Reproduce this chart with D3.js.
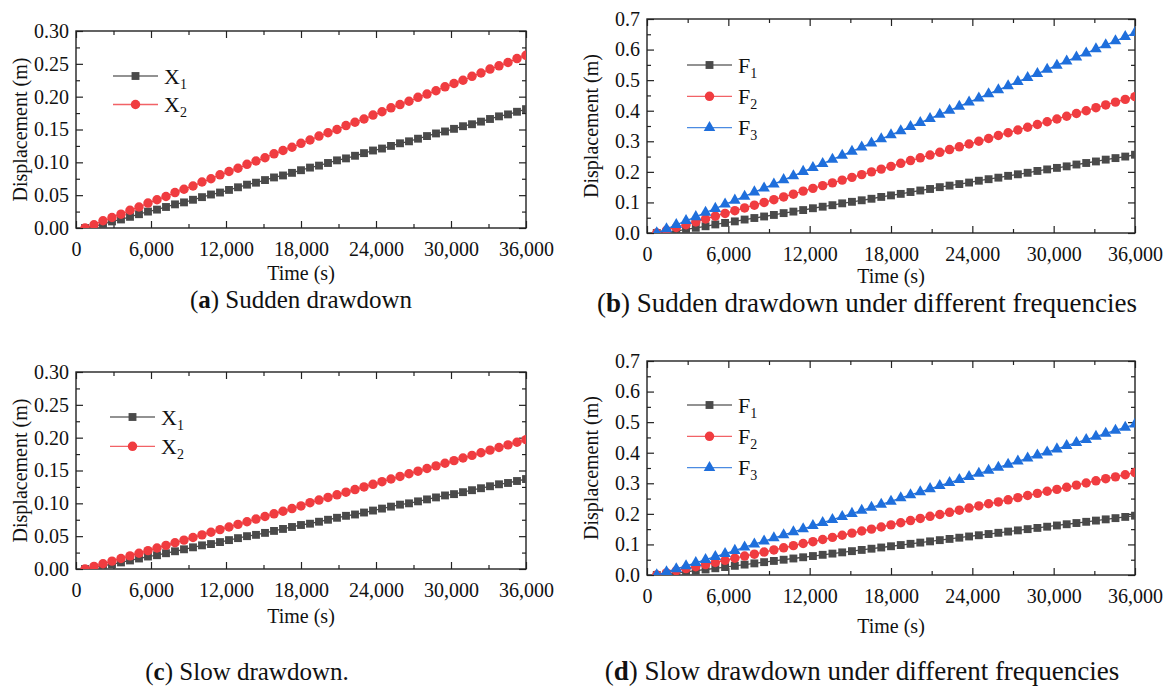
<!DOCTYPE html>
<html>
<head>
<meta charset="utf-8">
<script src="https://cdn.jsdelivr.net/npm/d3@7"></script>
<style>
  body { margin: 0; background: #fff; }
  svg text { font-family: "Liberation Serif", "Times New Roman", serif; fill: #111; }
</style>
</head>
<body>
<svg id="chart" width="1170" height="689"></svg>
<script>
// time steps (s)
const times = [720, 1440, 2160, 2880, 3600, 4320, 5040, 5760, 6480, 7200,
  7920, 8640, 9360, 10080, 10800, 11520, 12240, 12960, 13680, 14400,
  15120, 15840, 16560, 17280, 18000, 18720, 19440, 20160, 20880, 21600,
  22320, 23040, 23760, 24480, 25200, 25920, 26640, 27360, 28080, 28800,
  29520, 30240, 30960, 31680, 32400, 33120, 33840, 34560, 35280, 36000];

// (a) sudden drawdown
const sudX1 = [0, 0.002, 0.006, 0.010, 0.013, 0.017, 0.021, 0.025, 0.028, 0.032,
  0.036, 0.039, 0.043, 0.047, 0.051, 0.054, 0.058, 0.062, 0.066, 0.069,
  0.073, 0.077, 0.080, 0.084, 0.088, 0.092, 0.095, 0.099, 0.103, 0.106,
  0.110, 0.114, 0.118, 0.121, 0.125, 0.129, 0.132, 0.136, 0.140, 0.144,
  0.147, 0.151, 0.155, 0.158, 0.162, 0.166, 0.170, 0.173, 0.177, 0.181];
const sudX2 = [0, 0.005, 0.011, 0.016, 0.021, 0.027, 0.032, 0.038, 0.043, 0.048,
  0.054, 0.059, 0.064, 0.070, 0.075, 0.081, 0.086, 0.091, 0.097, 0.102,
  0.107, 0.113, 0.118, 0.123, 0.129, 0.134, 0.140, 0.145, 0.150, 0.156,
  0.161, 0.166, 0.172, 0.177, 0.183, 0.188, 0.193, 0.199, 0.204, 0.209,
  0.215, 0.220, 0.225, 0.231, 0.236, 0.242, 0.247, 0.252, 0.258, 0.263];

// (b) sudden drawdown, frequencies
const sudF1 = [0, 0.001, 0.006, 0.012, 0.017, 0.022, 0.028, 0.033, 0.038, 0.044,
  0.049, 0.054, 0.059, 0.065, 0.070, 0.075, 0.081, 0.086, 0.091, 0.097,
  0.102, 0.107, 0.112, 0.118, 0.123, 0.128, 0.134, 0.139, 0.144, 0.150,
  0.155, 0.160, 0.165, 0.171, 0.176, 0.181, 0.187, 0.192, 0.197, 0.203,
  0.208, 0.213, 0.218, 0.224, 0.229, 0.234, 0.240, 0.245, 0.250, 0.256];
const sudF2 = [0, 0.009, 0.018, 0.027, 0.036, 0.046, 0.055, 0.064, 0.073, 0.082,
  0.091, 0.100, 0.109, 0.118, 0.127, 0.137, 0.146, 0.155, 0.164, 0.173,
  0.182, 0.191, 0.200, 0.209, 0.218, 0.228, 0.237, 0.246, 0.255, 0.264,
  0.273, 0.282, 0.291, 0.300, 0.309, 0.319, 0.328, 0.337, 0.346, 0.355,
  0.364, 0.373, 0.382, 0.391, 0.400, 0.410, 0.419, 0.428, 0.437, 0.446];
const sudF3 = [0, 0.013, 0.027, 0.040, 0.053, 0.067, 0.080, 0.094, 0.107, 0.120,
  0.134, 0.147, 0.160, 0.174, 0.187, 0.201, 0.214, 0.227, 0.241, 0.254,
  0.267, 0.281, 0.294, 0.308, 0.321, 0.334, 0.348, 0.361, 0.374, 0.388,
  0.401, 0.414, 0.428, 0.441, 0.455, 0.468, 0.481, 0.495, 0.508, 0.521,
  0.535, 0.548, 0.562, 0.575, 0.588, 0.602, 0.615, 0.628, 0.642, 0.655];

// (c) slow drawdown
const slowX1 = [0, 0.002, 0.005, 0.007, 0.010, 0.013, 0.016, 0.019, 0.021, 0.024,
  0.027, 0.030, 0.033, 0.036, 0.038, 0.041, 0.044, 0.047, 0.050, 0.052,
  0.055, 0.058, 0.061, 0.064, 0.067, 0.069, 0.072, 0.075, 0.078, 0.081,
  0.083, 0.086, 0.089, 0.092, 0.095, 0.098, 0.100, 0.103, 0.106, 0.109,
  0.112, 0.114, 0.117, 0.120, 0.123, 0.126, 0.129, 0.131, 0.134, 0.137];
const slowX2 = [0, 0.004, 0.008, 0.012, 0.016, 0.020, 0.024, 0.028, 0.032, 0.036,
  0.040, 0.044, 0.048, 0.052, 0.056, 0.060, 0.064, 0.068, 0.072, 0.076,
  0.080, 0.084, 0.088, 0.092, 0.096, 0.101, 0.105, 0.109, 0.113, 0.117,
  0.121, 0.125, 0.129, 0.133, 0.137, 0.141, 0.145, 0.149, 0.153, 0.157,
  0.161, 0.165, 0.169, 0.173, 0.177, 0.181, 0.185, 0.189, 0.193, 0.197];

// (d) slow drawdown, frequencies
const slowF1 = [0, 0.002, 0.006, 0.010, 0.014, 0.018, 0.022, 0.026, 0.030, 0.034,
  0.038, 0.042, 0.046, 0.050, 0.054, 0.058, 0.062, 0.066, 0.070, 0.074,
  0.078, 0.082, 0.086, 0.090, 0.094, 0.098, 0.102, 0.106, 0.110, 0.114,
  0.118, 0.122, 0.126, 0.130, 0.134, 0.138, 0.142, 0.146, 0.150, 0.154,
  0.158, 0.162, 0.166, 0.170, 0.174, 0.178, 0.182, 0.186, 0.190, 0.194];
const slowF2 = [0, 0.007, 0.014, 0.021, 0.027, 0.034, 0.041, 0.048, 0.055, 0.062,
  0.068, 0.075, 0.082, 0.089, 0.096, 0.103, 0.109, 0.116, 0.123, 0.130,
  0.137, 0.144, 0.150, 0.157, 0.164, 0.171, 0.178, 0.185, 0.192, 0.198,
  0.205, 0.212, 0.219, 0.226, 0.233, 0.239, 0.246, 0.253, 0.260, 0.267,
  0.274, 0.280, 0.287, 0.294, 0.301, 0.308, 0.315, 0.321, 0.328, 0.335];
const slowF3 = [0, 0.010, 0.020, 0.030, 0.040, 0.050, 0.060, 0.070, 0.080, 0.091,
  0.101, 0.111, 0.121, 0.131, 0.141, 0.151, 0.161, 0.171, 0.181, 0.191,
  0.201, 0.211, 0.221, 0.231, 0.241, 0.252, 0.262, 0.272, 0.282, 0.292,
  0.302, 0.312, 0.322, 0.332, 0.342, 0.352, 0.362, 0.372, 0.382, 0.392,
  0.402, 0.412, 0.423, 0.433, 0.443, 0.453, 0.463, 0.473, 0.483, 0.493];

// ticks
const xTicks = [0, 6000, 12000, 18000, 24000, 30000, 36000];
const xMinor = [3000, 9000, 15000, 21000, 27000, 33000];
const yTicksX = [0, 0.05, 0.10, 0.15, 0.20, 0.25, 0.30];
const yMinorX = [0.025, 0.075, 0.125, 0.175, 0.225, 0.275];
const yTicksF = [0, 0.1, 0.2, 0.3, 0.4, 0.5, 0.6, 0.7];
const yMinorF = [0.05, 0.15, 0.25, 0.35, 0.45, 0.55, 0.65];

const grey = "#4a4a4a", red = "#f03c40", blue = "#1f6fdc";

const svg = d3.select("#chart");

const panels = [
  { id: "a", left: 76, right: 526, top: 31, bottom: 228, yMax: 0.30, yTicks: yTicksX, yMinor: yMinorX, fmt: ".2f",
    titleGap: 52,
    series: [{ name: "X", sub: "1", values: sudX1, color: grey, shape: d3.symbolSquare },
             { name: "X", sub: "2", values: sudX2, color: red, shape: d3.symbolCircle }],
    legend: { x: 113, y: 76, gap: 28.5 },
    cap: { letter: "a", text: ") Sudden drawdown", x: 301, y: 308, size: 25 } },
  { id: "b", left: 647, right: 1135, top: 19, bottom: 233, yMax: 0.7, yTicks: yTicksF, yMinor: yMinorF, fmt: ".1f",
    titleGap: 50,
    series: [{ name: "F", sub: "1", values: sudF1, color: grey, shape: d3.symbolSquare },
             { name: "F", sub: "2", values: sudF2, color: red, shape: d3.symbolCircle },
             { name: "F", sub: "3", values: sudF3, color: blue, shape: d3.symbolTriangle }],
    legend: { x: 687, y: 65, gap: 31.3 },
    cap: { letter: "b", text: ") Sudden drawdown under different frequencies", x: 867, y: 312, size: 27 } },
  { id: "c", left: 76, right: 526, top: 372, bottom: 569, yMax: 0.30, yTicks: yTicksX, yMinor: yMinorX, fmt: ".2f",
    titleGap: 54,
    series: [{ name: "X", sub: "1", values: slowX1, color: grey, shape: d3.symbolSquare },
             { name: "X", sub: "2", values: slowX2, color: red, shape: d3.symbolCircle }],
    legend: { x: 110, y: 417, gap: 29.3 },
    cap: { letter: "c", text: ") Slow drawdown.", x: 247, y: 680, size: 25 } },
  { id: "d", left: 647, right: 1135, top: 361, bottom: 575, yMax: 0.7, yTicks: yTicksF, yMinor: yMinorF, fmt: ".1f",
    titleGap: 58,
    series: [{ name: "F", sub: "1", values: slowF1, color: grey, shape: d3.symbolSquare },
             { name: "F", sub: "2", values: slowF2, color: red, shape: d3.symbolCircle },
             { name: "F", sub: "3", values: slowF3, color: blue, shape: d3.symbolTriangle }],
    legend: { x: 687, y: 405, gap: 31.3 },
    cap: { letter: "d", text: ") Slow drawdown under different frequencies", x: 862, y: 680, size: 27 } }
];

const symbolSize = new Map([[d3.symbolSquare, 62], [d3.symbolCircle, 70], [d3.symbolTriangle, 58]]);

panels.forEach(p => drawPanel(p));

function drawPanel(p) {
  const x = d3.scaleLinear().domain([0, 36000]).range([p.left, p.right]);
  const y = d3.scaleLinear().domain([0, p.yMax]).range([p.bottom, p.top]);
  const g = svg.append("g");

  g.append("clipPath").attr("id", "clip-" + p.id)
    .append("rect")
    .attr("x", p.left).attr("y", p.top)
    .attr("width", p.right - p.left).attr("height", p.bottom - p.top);

  // axes: major + minor, inward ticks on all four sides
  const axes = [
    [d3.axisBottom, "translate(0," + p.bottom + ")", x, xTicks, xMinor, true],
    [d3.axisTop, "translate(0," + p.top + ")", x, xTicks, xMinor, false],
    [d3.axisLeft, "translate(" + p.left + ",0)", y, p.yTicks, p.yMinor, true],
    [d3.axisRight, "translate(" + p.right + ",0)", y, p.yTicks, p.yMinor, false]
  ];
  axes.forEach(([axisFn, tr, scale, major, minor, labels]) => {
    const isX = scale === x;
    const fmt = isX ? d3.format(",") : d3.format(p.fmt);
    const ax = g.append("g").attr("transform", tr)
      .call(axisFn(scale).tickValues(major).tickSize(-7).tickPadding(isX ? 14 : 7)
        .tickFormat(labels ? (d => (isX && d === 0) ? "0" : fmt(d)) : ""));
    ax.select(".domain").remove();
    ax.selectAll("line").attr("stroke", "#222").attr("stroke-width", 1.2);
    ax.selectAll("text").attr("font-size", 20).attr("fill", "#111")
      .attr("font-family", '"Liberation Serif", "Times New Roman", serif');
    const mn = g.append("g").attr("transform", tr)
      .call(axisFn(scale).tickValues(minor).tickSize(-4).tickFormat(""));
    mn.select(".domain").remove();
    mn.selectAll("line").attr("stroke", "#222").attr("stroke-width", 1.2);
  });

  // frame
  g.append("rect")
    .attr("x", p.left).attr("y", p.top)
    .attr("width", p.right - p.left).attr("height", p.bottom - p.top)
    .attr("fill", "none").attr("stroke", "#222").attr("stroke-width", 1.4);

  // series
  const plot = g.append("g").attr("clip-path", "url(#clip-" + p.id + ")");
  const line = d3.line().x((d, i) => x(times[i])).y(d => y(d));
  p.series.forEach(s => {
    plot.append("path").datum(s.values)
      .attr("fill", "none").attr("stroke", s.color).attr("stroke-width", 1.3)
      .attr("d", line);
    plot.selectAll(null).data(s.values).enter().append("path")
      .attr("transform", (d, i) => "translate(" + x(times[i]) + "," + y(d) + ")")
      .attr("d", d3.symbol().type(s.shape).size(symbolSize.get(s.shape)))
      .attr("fill", s.color);
  });

  // legend
  p.series.forEach((s, i) => {
    const ly = p.legend.y + i * p.legend.gap;
    g.append("line")
      .attr("x1", p.legend.x).attr("x2", p.legend.x + 45)
      .attr("y1", ly).attr("y2", ly)
      .attr("stroke", s.color).attr("stroke-width", 1.3).attr("opacity", 0.8);
    g.append("path")
      .attr("transform", "translate(" + (p.legend.x + 22.5) + "," + ly + ")")
      .attr("d", d3.symbol().type(s.shape).size(symbolSize.get(s.shape)))
      .attr("fill", s.color);
    const t = g.append("text")
      .attr("x", p.legend.x + 51).attr("y", ly + 7.5)
      .attr("font-size", 22).text(s.name);
    t.append("tspan").attr("font-size", 14).attr("dy", 5).text(s.sub);
  });

  // axis titles
  g.append("text")
    .attr("x", (p.left + p.right) / 2).attr("y", p.bottom + p.titleGap)
    .attr("text-anchor", "middle").attr("font-size", 20)
    .text("Time (s)");
  g.append("text")
    .attr("transform", "translate(" + (p.left - 49) + "," + ((p.top + p.bottom) / 2) + ") rotate(-90)")
    .attr("text-anchor", "middle").attr("font-size", 20)
    .text("Displacement (m)");

  // caption
  const c = svg.append("text")
    .attr("x", p.cap.x).attr("y", p.cap.y)
    .attr("text-anchor", "middle").attr("font-size", p.cap.size)
    .text("(");
  c.append("tspan").attr("font-weight", "bold").text(p.cap.letter);
  c.append("tspan").text(p.cap.text);
}
</script>
</body>
</html>
